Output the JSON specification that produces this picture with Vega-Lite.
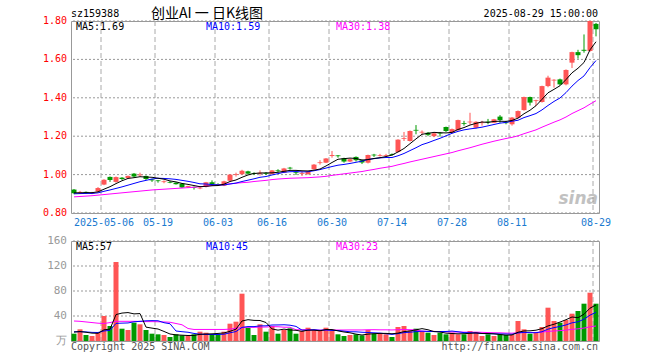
{
"$schema":"https://vega.github.io/schema/vega-lite/v6.json",
"padding":{"left":42,"top":6,"right":10,"bottom":5},
"background":"white",
"config":{"view":{"stroke":"#999","strokeWidth":1},"font":"DejaVu Sans Mono",
 "axis":{"labelFont":"DejaVu Sans Mono","titleFont":"DejaVu Sans Mono","ticks":false,"domain":false,"title":null,"labelFontSize":10,"labelPadding":4,"grid":false}},
"datasets":{
"gx":[{"g":"2025-05-06"},{"g":"2025-05-19"},{"g":"2025-06-03"},{"g":"2025-06-16"},{"g":"2025-06-30"},{"g":"2025-07-14"},{"g":"2025-07-28"},{"g":"2025-08-11"},{"g":"2025-08-29"}],
"gy":[{"p":0.8,"t":"0.80"},{"p":1.0,"t":"1.00"},{"p":1.2,"t":"1.20"},{"p":1.4,"t":"1.40"},{"p":1.6,"t":"1.60"},{"p":1.8,"t":"1.80"}],
"gv":[{"p":0,"t":"万"},{"p":40,"t":"40"},{"p":80,"t":"80"},{"p":120,"t":"120"},{"p":160,"t":"160"}],
"k":[
{"d":"2025-04-24","o":0.922,"h":0.925,"l":0.898,"c":0.903,"v":11.7,"m5":0.905,"m10":0.900,"m30":0.884,"vm5":14.3,"vm10":14.7,"vm30":32.0},
{"d":"2025-04-25","o":0.905,"h":0.915,"l":0.900,"c":0.910,"v":18.7,"m5":0.905,"m10":0.901,"m30":0.886,"vm5":15.1,"vm10":15.0,"vm30":31.5},
{"d":"2025-04-28","o":0.910,"h":0.912,"l":0.900,"c":0.905,"v":9.6,"m5":0.906,"m10":0.902,"m30":0.888,"vm5":14.0,"vm10":14.5,"vm30":30.5},
{"d":"2025-04-29","o":0.900,"h":0.910,"l":0.898,"c":0.904,"v":8.0,"m5":0.906,"m10":0.902,"m30":0.890,"vm5":12.6,"vm10":13.8,"vm30":29.5},
{"d":"2025-04-30","o":0.912,"h":0.935,"l":0.908,"c":0.930,"v":13.3,"m5":0.910,"m10":0.905,"m30":0.893,"vm5":12.3,"vm10":13.6,"vm30":28.5},
{"d":"2025-05-06","o":0.948,"h":0.976,"l":0.945,"c":0.973,"v":40.0,"m5":0.924,"m10":0.913,"m30":0.896,"vm5":17.9,"vm10":16.1,"vm30":28.0},
{"d":"2025-05-07","o":0.988,"h":0.990,"l":0.962,"c":0.972,"v":24.0,"m5":0.937,"m10":0.920,"m30":0.899,"vm5":19.0,"vm10":17.0,"vm30":29.5},
{"d":"2025-05-08","o":0.962,"h":0.990,"l":0.958,"c":0.987,"v":126.4,"m5":0.953,"m10":0.928,"m30":0.902,"vm5":42.3,"vm10":28.2,"vm30":31.5},
{"d":"2025-05-09","o":0.984,"h":0.987,"l":0.972,"c":0.977,"v":19.7,"m5":0.968,"m10":0.936,"m30":0.905,"vm5":44.7,"vm10":28.6,"vm30":31.5},
{"d":"2025-05-12","o":0.982,"h":0.995,"l":0.978,"c":0.993,"v":17.6,"m5":0.980,"m10":0.945,"m30":0.908,"vm5":45.5,"vm10":28.9,"vm30":31.5},
{"d":"2025-05-13","o":1.005,"h":1.008,"l":0.985,"c":0.990,"v":29.3,"m5":0.984,"m10":0.954,"m30":0.911,"vm5":43.4,"vm10":30.7,"vm30":31.5},
{"d":"2025-05-14","o":0.996,"h":1.010,"l":0.990,"c":1.000,"v":26.7,"m5":0.989,"m10":0.963,"m30":0.914,"vm5":43.9,"vm10":31.5,"vm30":31.3},
{"d":"2025-05-15","o":0.993,"h":0.995,"l":0.972,"c":0.977,"v":17.6,"m5":0.987,"m10":0.970,"m30":0.917,"vm5":22.2,"vm10":32.3,"vm30":31.0},
{"d":"2025-05-16","o":0.975,"h":0.978,"l":0.962,"c":0.970,"v":11.7,"m5":0.986,"m10":0.977,"m30":0.920,"vm5":20.6,"vm10":32.6,"vm30":31.0},
{"d":"2025-05-19","o":0.970,"h":0.972,"l":0.958,"c":0.966,"v":10.7,"m5":0.981,"m10":0.981,"m30":0.922,"vm5":19.2,"vm10":32.4,"vm30":30.8},
{"d":"2025-05-20","o":0.961,"h":0.970,"l":0.955,"c":0.965,"v":9.6,"m5":0.976,"m10":0.980,"m30":0.924,"vm5":15.3,"vm10":29.3,"vm30":30.5},
{"d":"2025-05-21","o":0.962,"h":0.966,"l":0.955,"c":0.958,"v":6.4,"m5":0.967,"m10":0.978,"m30":0.926,"vm5":11.2,"vm10":27.6,"vm30":30.0},
{"d":"2025-05-22","o":0.958,"h":0.960,"l":0.948,"c":0.950,"v":10.7,"m5":0.962,"m10":0.975,"m30":0.928,"vm5":9.8,"vm10":16.0,"vm30":28.0},
{"d":"2025-05-23","o":0.953,"h":0.956,"l":0.930,"c":0.933,"v":9.1,"m5":0.954,"m10":0.970,"m30":0.930,"vm5":9.3,"vm10":14.9,"vm30":26.0},
{"d":"2025-05-26","o":0.935,"h":0.942,"l":0.930,"c":0.940,"v":8.0,"m5":0.949,"m10":0.965,"m30":0.932,"vm5":8.8,"vm10":14.0,"vm30":20.0},
{"d":"2025-05-27","o":0.936,"h":0.938,"l":0.922,"c":0.932,"v":10.7,"m5":0.943,"m10":0.959,"m30":0.934,"vm5":9.0,"vm10":12.1,"vm30":18.5},
{"d":"2025-05-28","o":0.928,"h":0.936,"l":0.924,"c":0.932,"v":14.9,"m5":0.937,"m10":0.952,"m30":0.937,"vm5":10.7,"vm10":10.9,"vm30":18.5},
{"d":"2025-05-29","o":0.936,"h":0.962,"l":0.933,"c":0.960,"v":13.3,"m5":0.939,"m10":0.951,"m30":0.940,"vm5":11.2,"vm10":10.5,"vm30":18.5},
{"d":"2025-05-30","o":0.960,"h":0.970,"l":0.944,"c":0.948,"v":10.7,"m5":0.942,"m10":0.948,"m30":0.943,"vm5":11.5,"vm10":10.4,"vm30":18.5},
{"d":"2025-06-03","o":0.950,"h":0.955,"l":0.942,"c":0.945,"v":10.7,"m5":0.943,"m10":0.946,"m30":0.946,"vm5":12.1,"vm10":10.4,"vm30":18.5},
{"d":"2025-06-04","o":0.942,"h":0.968,"l":0.940,"c":0.965,"v":14.9,"m5":0.950,"m10":0.946,"m30":0.949,"vm5":12.9,"vm10":10.9,"vm30":18.5},
{"d":"2025-06-05","o":0.968,"h":1.002,"l":0.965,"c":1.000,"v":27.7,"m5":0.964,"m10":0.951,"m30":0.952,"vm5":15.5,"vm10":13.1,"vm30":19.0},
{"d":"2025-06-06","o":0.998,"h":1.010,"l":0.990,"c":1.002,"v":30.9,"m5":0.972,"m10":0.956,"m30":0.955,"vm5":19.0,"vm10":15.1,"vm30":20.5},
{"d":"2025-06-09","o":1.002,"h":1.025,"l":1.000,"c":1.020,"v":75.7,"m5":0.986,"m10":0.964,"m30":0.958,"vm5":32.0,"vm10":21.8,"vm30":21.5},
{"d":"2025-06-10","o":1.017,"h":1.020,"l":1.000,"c":1.005,"v":21.3,"m5":0.998,"m10":0.971,"m30":0.960,"vm5":34.1,"vm10":23.1,"vm30":22.0},
{"d":"2025-06-11","o":1.008,"h":1.012,"l":0.998,"c":1.004,"v":9.6,"m5":1.006,"m10":0.978,"m30":0.964,"vm5":33.0,"vm10":23.0,"vm30":21.9},
{"d":"2025-06-12","o":1.005,"h":1.022,"l":0.995,"c":1.010,"v":26.7,"m5":1.008,"m10":0.986,"m30":0.967,"vm5":32.8,"vm10":24.2,"vm30":22.2},
{"d":"2025-06-13","o":1.008,"h":1.012,"l":0.998,"c":1.004,"v":14.9,"m5":1.009,"m10":0.990,"m30":0.970,"vm5":29.6,"vm10":24.3,"vm30":22.4},
{"d":"2025-06-16","o":1.004,"h":1.024,"l":1.000,"c":1.022,"v":24.0,"m5":1.009,"m10":0.998,"m30":0.974,"vm5":19.3,"vm10":25.6,"vm30":22.9},
{"d":"2025-06-17","o":1.022,"h":1.028,"l":1.012,"c":1.018,"v":11.7,"m5":1.012,"m10":1.005,"m30":0.977,"vm5":17.4,"vm10":25.7,"vm30":22.8},
{"d":"2025-06-18","o":1.010,"h":1.035,"l":1.008,"c":1.032,"v":17.6,"m5":1.017,"m10":1.012,"m30":0.979,"vm5":19.0,"vm10":26.0,"vm30":22.1},
{"d":"2025-06-19","o":1.036,"h":1.040,"l":1.026,"c":1.032,"v":20.3,"m5":1.022,"m10":1.015,"m30":0.981,"vm5":17.7,"vm10":25.3,"vm30":22.0},
{"d":"2025-06-20","o":1.012,"h":1.016,"l":0.998,"c":1.008,"v":11.7,"m5":1.022,"m10":1.016,"m30":0.982,"vm5":17.1,"vm10":23.4,"vm30":18.1},
{"d":"2025-06-23","o":1.004,"h":1.018,"l":0.993,"c":1.008,"v":16.0,"m5":1.020,"m10":1.014,"m30":0.983,"vm5":15.5,"vm10":17.4,"vm30":18.0},
{"d":"2025-06-24","o":1.002,"h":1.018,"l":1.000,"c":1.015,"v":21.3,"m5":1.019,"m10":1.015,"m30":0.984,"vm5":17.4,"vm10":17.4,"vm30":18.1},
{"d":"2025-06-25","o":1.028,"h":1.055,"l":1.026,"c":1.052,"v":17.0,"m5":1.023,"m10":1.020,"m30":0.986,"vm5":17.3,"vm10":18.1,"vm30":17.7},
{"d":"2025-06-26","o":1.060,"h":1.075,"l":1.052,"c":1.064,"v":16.0,"m5":1.029,"m10":1.026,"m30":0.988,"vm5":16.4,"vm10":17.1,"vm30":17.4},
{"d":"2025-06-27","o":1.062,"h":1.086,"l":1.060,"c":1.084,"v":21.3,"m5":1.045,"m10":1.034,"m30":0.991,"vm5":18.3,"vm10":17.7,"vm30":17.5},
{"d":"2025-06-30","o":1.097,"h":1.123,"l":1.088,"c":1.102,"v":16.0,"m5":1.063,"m10":1.042,"m30":0.996,"vm5":18.3,"vm10":16.9,"vm30":17.6},
{"d":"2025-07-01","o":1.100,"h":1.102,"l":1.088,"c":1.096,"v":10.7,"m5":1.080,"m10":1.049,"m30":1.000,"vm5":16.2,"vm10":16.8,"vm30":17.6},
{"d":"2025-07-02","o":1.085,"h":1.088,"l":1.062,"c":1.068,"v":8.0,"m5":1.083,"m10":1.053,"m30":1.004,"vm5":14.4,"vm10":15.8,"vm30":17.6},
{"d":"2025-07-03","o":1.068,"h":1.084,"l":1.065,"c":1.080,"v":9.6,"m5":1.086,"m10":1.058,"m30":1.008,"vm5":13.1,"vm10":14.8,"vm30":17.7},
{"d":"2025-07-04","o":1.092,"h":1.095,"l":1.068,"c":1.075,"v":10.7,"m5":1.084,"m10":1.064,"m30":1.012,"vm5":11.0,"vm10":14.7,"vm30":17.7},
{"d":"2025-07-07","o":1.075,"h":1.078,"l":1.055,"c":1.063,"v":9.1,"m5":1.076,"m10":1.070,"m30":1.016,"vm5":9.6,"vm10":14.0,"vm30":17.7},
{"d":"2025-07-08","o":1.062,"h":1.104,"l":1.058,"c":1.102,"v":17.6,"m5":1.078,"m10":1.079,"m30":1.022,"vm5":11.0,"vm10":13.6,"vm30":18.0},
{"d":"2025-07-09","o":1.104,"h":1.108,"l":1.092,"c":1.100,"v":11.7,"m5":1.084,"m10":1.083,"m30":1.027,"vm5":11.7,"vm10":13.1,"vm30":18.1},
{"d":"2025-07-10","o":1.097,"h":1.108,"l":1.094,"c":1.101,"v":11.7,"m5":1.088,"m10":1.087,"m30":1.033,"vm5":12.2,"vm10":12.6,"vm30":17.9},
{"d":"2025-07-11","o":1.098,"h":1.108,"l":1.095,"c":1.102,"v":10.7,"m5":1.094,"m10":1.089,"m30":1.038,"vm5":12.2,"vm10":11.6,"vm30":17.9},
{"d":"2025-07-14","o":1.107,"h":1.110,"l":1.098,"c":1.103,"v":6.4,"m5":1.102,"m10":1.089,"m30":1.043,"vm5":11.6,"vm10":10.6,"vm30":17.7},
{"d":"2025-07-15","o":1.118,"h":1.184,"l":1.115,"c":1.182,"v":22.4,"m5":1.118,"m10":1.098,"m30":1.051,"vm5":12.6,"vm10":11.8,"vm30":18.1},
{"d":"2025-07-16","o":1.186,"h":1.222,"l":1.175,"c":1.190,"v":24.0,"m5":1.136,"m10":1.110,"m30":1.058,"vm5":15.0,"vm10":13.4,"vm30":18.4},
{"d":"2025-07-17","o":1.175,"h":1.230,"l":1.172,"c":1.227,"v":17.0,"m5":1.161,"m10":1.125,"m30":1.066,"vm5":16.1,"vm10":14.1,"vm30":18.1},
{"d":"2025-07-18","o":1.233,"h":1.258,"l":1.210,"c":1.229,"v":19.7,"m5":1.186,"m10":1.140,"m30":1.073,"vm5":17.9,"vm10":15.0,"vm30":17.7},
{"d":"2025-07-21","o":1.219,"h":1.230,"l":1.208,"c":1.223,"v":16.0,"m5":1.210,"m10":1.156,"m30":1.080,"vm5":19.8,"vm10":15.7,"vm30":15.7},
{"d":"2025-07-22","o":1.218,"h":1.222,"l":1.200,"c":1.207,"v":13.3,"m5":1.215,"m10":1.166,"m30":1.087,"vm5":18.0,"vm10":15.3,"vm30":15.4},
{"d":"2025-07-23","o":1.200,"h":1.220,"l":1.195,"c":1.215,"v":9.6,"m5":1.220,"m10":1.178,"m30":1.094,"vm5":15.1,"vm10":15.1,"vm30":15.4},
{"d":"2025-07-24","o":1.218,"h":1.222,"l":1.198,"c":1.214,"v":13.3,"m5":1.218,"m10":1.189,"m30":1.101,"vm5":14.4,"vm10":15.2,"vm30":15.0},
{"d":"2025-07-25","o":1.248,"h":1.250,"l":1.222,"c":1.227,"v":10.7,"m5":1.217,"m10":1.202,"m30":1.108,"vm5":12.6,"vm10":15.2,"vm30":14.8},
{"d":"2025-07-28","o":1.218,"h":1.240,"l":1.215,"c":1.237,"v":13.3,"m5":1.220,"m10":1.215,"m30":1.115,"vm5":12.0,"vm10":15.9,"vm30":14.5},
{"d":"2025-07-29","o":1.232,"h":1.286,"l":1.228,"c":1.284,"v":10.7,"m5":1.235,"m10":1.225,"m30":1.124,"vm5":11.5,"vm10":14.8,"vm30":14.4},
{"d":"2025-07-30","o":1.268,"h":1.280,"l":1.255,"c":1.264,"v":10.7,"m5":1.245,"m10":1.233,"m30":1.132,"vm5":11.7,"vm10":13.4,"vm30":14.2},
{"d":"2025-07-31","o":1.272,"h":1.322,"l":1.260,"c":1.276,"v":16.0,"m5":1.258,"m10":1.238,"m30":1.140,"vm5":12.3,"vm10":13.3,"vm30":14.1},
{"d":"2025-08-01","o":1.244,"h":1.278,"l":1.240,"c":1.275,"v":14.4,"m5":1.267,"m10":1.242,"m30":1.149,"vm5":13.0,"vm10":12.8,"vm30":14.2},
{"d":"2025-08-04","o":1.268,"h":1.280,"l":1.255,"c":1.272,"v":8.0,"m5":1.274,"m10":1.247,"m30":1.158,"vm5":12.0,"vm10":12.0,"vm30":13.9},
{"d":"2025-08-05","o":1.276,"h":1.290,"l":1.262,"c":1.272,"v":10.7,"m5":1.272,"m10":1.254,"m30":1.166,"vm5":12.0,"vm10":11.7,"vm30":13.5},
{"d":"2025-08-06","o":1.270,"h":1.290,"l":1.268,"c":1.288,"v":8.0,"m5":1.277,"m10":1.261,"m30":1.174,"vm5":11.4,"vm10":11.6,"vm30":13.2},
{"d":"2025-08-07","o":1.302,"h":1.310,"l":1.270,"c":1.284,"v":10.7,"m5":1.278,"m10":1.268,"m30":1.181,"vm5":10.4,"vm10":11.3,"vm30":13.1},
{"d":"2025-08-08","o":1.272,"h":1.280,"l":1.262,"c":1.268,"v":9.6,"m5":1.277,"m10":1.272,"m30":1.188,"vm5":9.4,"vm10":11.2,"vm30":12.7},
{"d":"2025-08-11","o":1.262,"h":1.300,"l":1.255,"c":1.297,"v":9.6,"m5":1.282,"m10":1.278,"m30":1.194,"vm5":9.7,"vm10":10.8,"vm30":12.5},
{"d":"2025-08-12","o":1.296,"h":1.334,"l":1.293,"c":1.331,"v":32.0,"m5":1.294,"m10":1.283,"m30":1.202,"vm5":14.0,"vm10":13.0,"vm30":13.2},
{"d":"2025-08-13","o":1.336,"h":1.406,"l":1.333,"c":1.404,"v":18.7,"m5":1.317,"m10":1.297,"m30":1.213,"vm5":16.1,"vm10":13.8,"vm30":13.5},
{"d":"2025-08-14","o":1.404,"h":1.406,"l":1.360,"c":1.375,"v":11.7,"m5":1.335,"m10":1.307,"m30":1.223,"vm5":16.3,"vm10":13.3,"vm30":13.6},
{"d":"2025-08-15","o":1.383,"h":1.390,"l":1.357,"c":1.387,"v":14.4,"m5":1.359,"m10":1.318,"m30":1.233,"vm5":17.3,"vm10":13.3,"vm30":13.7},
{"d":"2025-08-18","o":1.378,"h":1.463,"l":1.375,"c":1.461,"v":22.4,"m5":1.392,"m10":1.337,"m30":1.247,"vm5":19.8,"vm10":14.8,"vm30":14.2},
{"d":"2025-08-19","o":1.461,"h":1.515,"l":1.455,"c":1.505,"v":53.3,"m5":1.426,"m10":1.360,"m30":1.260,"vm5":24.1,"vm10":19.0,"vm30":15.4},
{"d":"2025-08-20","o":1.490,"h":1.497,"l":1.453,"c":1.494,"v":32.0,"m5":1.444,"m10":1.381,"m30":1.273,"vm5":26.8,"vm10":21.4,"vm30":16.0},
{"d":"2025-08-21","o":1.496,"h":1.500,"l":1.465,"c":1.470,"v":29.3,"m5":1.463,"m10":1.399,"m30":1.285,"vm5":30.3,"vm10":23.3,"vm30":16.6},
{"d":"2025-08-22","o":1.470,"h":1.548,"l":1.465,"c":1.545,"v":33.6,"m5":1.495,"m10":1.427,"m30":1.300,"vm5":34.1,"vm10":25.7,"vm30":17.4},
{"d":"2025-08-25","o":1.583,"h":1.640,"l":1.555,"c":1.638,"v":43.7,"m5":1.530,"m10":1.461,"m30":1.318,"vm5":38.4,"vm10":29.1,"vm30":18.6},
{"d":"2025-08-26","o":1.638,"h":1.650,"l":1.604,"c":1.622,"v":48.0,"m5":1.554,"m10":1.490,"m30":1.333,"vm5":37.3,"vm10":30.7,"vm30":19.5},
{"d":"2025-08-27","o":1.650,"h":1.730,"l":1.635,"c":1.645,"v":59.7,"m5":1.584,"m10":1.514,"m30":1.348,"vm5":42.9,"vm10":34.8,"vm30":20.7},
{"d":"2025-08-28","o":1.644,"h":1.802,"l":1.640,"c":1.800,"v":77.3,"m5":1.650,"m10":1.557,"m30":1.367,"vm5":52.5,"vm10":41.4,"vm30":22.7},
{"d":"2025-08-29","o":1.785,"h":1.790,"l":1.720,"c":1.757,"v":59.7,"m5":1.692,"m10":1.594,"m30":1.385,"vm5":57.7,"vm10":45.9,"vm30":24.0}
]},
"spacing":28,
"bounds":"flush",
"resolve":{"scale":{"x":"independent","y":"independent"}},
"vconcat":[
{
"width":528,"height":192,
"layer":[
 {"data":{"name":"gy"},"mark":{"type":"rule","color":"#999","strokeDash":[2,2],"strokeWidth":1},
  "encoding":{"y":{"field":"p","type":"quantitative","scale":{"domain":[0.8,1.8],"nice":false,"zero":false},"axis":null}}},
 {"data":{"name":"gx"},"mark":{"type":"rule","color":"#aaa","strokeDash":[5,3],"strokeWidth":1},
  "encoding":{"x":{"field":"g","type":"ordinal","sort":"ascending","bandPosition":0,"scale":{"paddingInner":0,"paddingOuter":0},
    "axis":{"values":["2025-05-06","2025-05-19","2025-06-03","2025-06-16","2025-06-30","2025-07-14","2025-07-28","2025-08-11","2025-08-29"],
    "labelExpr":"datum.value == '2025-05-06' ? datum.value : substring(datum.value, 5)","labelAngle":0,"labelColor":"#1a7ad0","labelOverlap":false,"bandPosition":0}}}},
 {"data":{"name":"k"},"mark":{"type":"rule","strokeWidth":1},
  "encoding":{"x":{"field":"d","type":"ordinal","sort":"ascending"},
   "y":{"field":"l","type":"quantitative"},"y2":{"field":"h"},
   "color":{"condition":{"test":"datum.c >= datum.o","value":"#ff5555"},"value":"#009900"}}},
 {"data":{"name":"k"},"mark":{"type":"bar","size":5},
  "encoding":{"x":{"field":"d","type":"ordinal","sort":"ascending"},"y":{"field":"o","type":"quantitative"},"y2":{"field":"c"},
   "color":{"condition":{"test":"datum.c >= datum.o","value":"#ff5555"},"value":"#009900"}}},
 {"data":{"name":"k"},"mark":{"type":"line","color":"#ff00ff","strokeWidth":1},"encoding":{"x":{"field":"d","type":"ordinal","sort":"ascending"},"y":{"field":"m30","type":"quantitative"}}},
 {"data":{"name":"k"},"mark":{"type":"line","color":"#0000ff","strokeWidth":1},"encoding":{"x":{"field":"d","type":"ordinal","sort":"ascending"},"y":{"field":"m10","type":"quantitative"}}},
 {"data":{"name":"k"},"mark":{"type":"line","color":"#000000","strokeWidth":1},"encoding":{"x":{"field":"d","type":"ordinal","sort":"ascending"},"y":{"field":"m5","type":"quantitative"}}},
 {"data":{"name":"gy"},"mark":{"type":"text","align":"right","baseline":"middle","fontSize":10,"color":"#ff0000","dx":-7},
  "encoding":{"x":{"datum":"2025-04-24","type":"ordinal"},"y":{"field":"p","type":"quantitative"},"text":{"field":"t"}}},
 {"data":{"values":[{}]},"mark":{"type":"text","text":"MA5:1.69","align":"left","baseline":"middle","fontSize":10,"color":"#000000","dx":2},
  "encoding":{"x":{"datum":"2025-04-24","type":"ordinal"},"y":{"datum":1.769,"type":"quantitative"}}},
 {"data":{"values":[{}]},"mark":{"type":"text","text":"MA10:1.59","align":"left","baseline":"middle","fontSize":10,"color":"#0000ff","dx":0},
  "encoding":{"x":{"datum":"2025-05-29","type":"ordinal"},"y":{"datum":1.769,"type":"quantitative"}}},
 {"data":{"values":[{}]},"mark":{"type":"text","text":"MA30:1.38","align":"left","baseline":"middle","fontSize":10,"color":"#ff00ff","dx":-2},
  "encoding":{"x":{"datum":"2025-07-01","type":"ordinal"},"y":{"datum":1.769,"type":"quantitative"}}},
 {"data":{"values":[{}]},"mark":{"type":"text","text":"sz159388","align":"left","baseline":"middle","fontSize":10,"color":"#000000","dx":-3},
  "encoding":{"x":{"datum":"2025-04-24","type":"ordinal"},"y":{"datum":1.836,"type":"quantitative"}}},
 {"data":{"values":[{}]},"mark":{"type":"text","text":"创业AI 一 日K线图","align":"center","baseline":"middle","fontSize":14,"font":"Noto Sans CJK SC","color":"#000000","dx":1},
  "encoding":{"x":{"datum":"2025-05-29","type":"ordinal"},"y":{"datum":1.836,"type":"quantitative"}}},
 {"data":{"values":[{}]},"mark":{"type":"text","text":"2025-08-29 15:00:00","align":"right","baseline":"middle","fontSize":10,"color":"#000000","dx":2},
  "encoding":{"x":{"datum":"2025-08-29","type":"ordinal"},"y":{"datum":1.836,"type":"quantitative"}}},
 {"data":{"values":[{}]},"mark":{"type":"text","text":"sina","align":"right","baseline":"middle","fontSize":17,"font":"DejaVu Sans","fontWeight":"bold","fontStyle":"italic","color":"#999999","opacity":0.6,"dx":2},
  "encoding":{"x":{"datum":"2025-08-29","type":"ordinal"},"y":{"datum":0.873,"type":"quantitative"}}}
]
},
{
"width":528,"height":100,
"layer":[
 {"data":{"name":"gv"},"mark":{"type":"rule","color":"#999","strokeDash":[2,2],"strokeWidth":1},
  "encoding":{"y":{"field":"p","type":"quantitative","scale":{"domain":[0,160],"nice":false},"axis":null}}},
 {"data":{"name":"gx"},"mark":{"type":"rule","color":"#aaa","strokeDash":[5,3],"strokeWidth":1},
  "encoding":{"x":{"field":"g","type":"ordinal","sort":"ascending","bandPosition":0,"scale":{"paddingInner":0,"paddingOuter":0},"axis":null}}},
 {"data":{"name":"k"},"mark":{"type":"bar","size":5},
  "encoding":{"x":{"field":"d","type":"ordinal","sort":"ascending"},"y":{"field":"v","type":"quantitative"},
   "color":{"condition":{"test":"datum.c >= datum.o","value":"#ff5555"},"value":"#009900"}}},
 {"data":{"name":"k"},"mark":{"type":"line","color":"#ff00ff","strokeWidth":1},"encoding":{"x":{"field":"d","type":"ordinal","sort":"ascending"},"y":{"field":"vm30","type":"quantitative"}}},
 {"data":{"name":"k"},"mark":{"type":"line","color":"#0000ff","strokeWidth":1},"encoding":{"x":{"field":"d","type":"ordinal","sort":"ascending"},"y":{"field":"vm10","type":"quantitative"}}},
 {"data":{"name":"k"},"mark":{"type":"line","color":"#000000","strokeWidth":1},"encoding":{"x":{"field":"d","type":"ordinal","sort":"ascending"},"y":{"field":"vm5","type":"quantitative"}}},
 {"data":{"name":"gv"},"mark":{"type":"text","align":"right","baseline":"middle","fontSize":11,"color":"#999999","dx":-7},
  "encoding":{"x":{"datum":"2025-04-24","type":"ordinal"},"y":{"field":"p","type":"quantitative"},"text":{"field":"t"}}},
 {"data":{"values":[{}]},"mark":{"type":"text","text":"MA5:57","align":"left","baseline":"middle","fontSize":10,"color":"#000000","dx":2},
  "encoding":{"x":{"datum":"2025-04-24","type":"ordinal"},"y":{"datum":150.4,"type":"quantitative"}}},
 {"data":{"values":[{}]},"mark":{"type":"text","text":"MA10:45","align":"left","baseline":"middle","fontSize":10,"color":"#0000ff","dx":0},
  "encoding":{"x":{"datum":"2025-05-29","type":"ordinal"},"y":{"datum":150.4,"type":"quantitative"}}},
 {"data":{"values":[{}]},"mark":{"type":"text","text":"MA30:23","align":"left","baseline":"middle","fontSize":10,"color":"#ff00ff","dx":-2},
  "encoding":{"x":{"datum":"2025-07-01","type":"ordinal"},"y":{"datum":150.4,"type":"quantitative"}}},
 {"data":{"values":[{}]},"mark":{"type":"text","text":"Copyright 2025 SINA.COM","align":"left","baseline":"middle","fontSize":10,"color":"#555555","dx":-3},
  "encoding":{"x":{"datum":"2025-04-24","type":"ordinal"},"y":{"datum":-9.6,"type":"quantitative"}}},
 {"data":{"values":[{}]},"mark":{"type":"text","text":"http://finance.sina.com.cn","align":"right","baseline":"middle","fontSize":10,"color":"#555555","dx":2},
  "encoding":{"x":{"datum":"2025-08-29","type":"ordinal"},"y":{"datum":-9.6,"type":"quantitative"}}}
]
}
]
}
